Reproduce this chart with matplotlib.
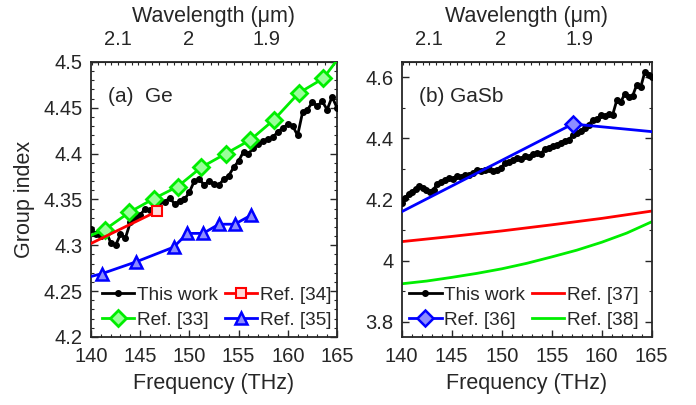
import numpy as np
import matplotlib
matplotlib.use('Agg')
from matplotlib import pyplot as plt
from matplotlib.ticker import MultipleLocator

plt.rcParams['font.family'] = ['Liberation Sans', 'DejaVu Sans']
TXT = '#262626'
plt.rcParams['text.color'] = TXT
plt.rcParams['axes.labelcolor'] = TXT
plt.rcParams['xtick.color'] = TXT
plt.rcParams['ytick.color'] = TXT
plt.rcParams['axes.edgecolor'] = TXT

# ---- (a) Ge data ----
ge_f = [140.0, 140.5, 141.0, 141.5, 142.0, 142.5, 143.0, 143.5, 144.0, 144.5,
        145.0, 145.5, 146.0, 146.5, 147.0, 147.5, 148.0, 148.5, 149.0, 149.5,
        150.0, 150.5, 151.0, 151.5, 152.0, 152.5, 153.0, 153.5, 154.0, 154.5,
        155.0, 155.5, 156.0, 156.5, 157.0, 157.5, 158.0, 158.5, 159.0, 159.5,
        160.0, 160.5, 161.0, 161.5, 162.0, 162.5, 163.0, 163.5, 164.0, 164.5, 165.0]
ge_g = [4.318, 4.312, 4.310, 4.316, 4.303, 4.300, 4.312, 4.308, 4.325, 4.330,
        4.333, 4.340, 4.338, 4.344, 4.348, 4.347, 4.352, 4.345, 4.348, 4.350,
        4.358, 4.370, 4.372, 4.366, 4.370, 4.367, 4.366, 4.372, 4.376, 4.385,
        4.392, 4.402, 4.400, 4.406, 4.410, 4.414, 4.416, 4.418, 4.424, 4.428,
        4.432, 4.430, 4.420, 4.445, 4.448, 4.456, 4.452, 4.457, 4.448, 4.462, 4.450]

ref33_f = [140.0, 141.4, 143.9, 146.4, 148.8, 151.2, 153.7, 156.2, 158.6, 161.1, 163.6, 165.0]
ref33_g = [4.311, 4.317, 4.336, 4.351, 4.364, 4.385, 4.400, 4.415, 4.437, 4.466, 4.482, 4.502]

ref34_f = [140.0, 146.7]
ref34_g = [4.302, 4.337]

ref35_f = [140.0, 141.1, 144.6, 148.4, 149.8, 151.4, 153.0, 154.6, 156.3]
ref35_g = [4.266, 4.269, 4.282, 4.298, 4.313, 4.313, 4.323, 4.323, 4.333]

# ---- (b) GaSb data ----
gasb_f = [140.0, 140.3, 140.7, 141.0, 141.4, 141.7, 142.1, 142.4, 142.8, 143.2,
          143.5, 143.9, 144.3, 144.7, 145.1, 145.5, 145.9, 146.3, 146.7, 147.1,
          147.5, 147.9, 148.3, 148.7, 149.1, 149.5, 149.9, 150.3, 150.7, 151.1,
          151.5, 151.9, 152.3, 152.7, 153.1, 153.5, 153.9, 154.3, 154.7, 155.1,
          155.5, 155.9, 156.3, 156.7, 157.1, 157.5, 157.9, 158.3, 158.7, 159.1,
          159.5, 159.9, 160.3, 160.7, 161.1, 161.5, 161.9, 162.3, 162.7, 163.1,
          163.5, 163.9, 164.3, 164.7, 165.0]
gasb_g = [4.190, 4.205, 4.218, 4.225, 4.235, 4.243, 4.236, 4.230, 4.226, 4.232,
          4.250, 4.256, 4.265, 4.270, 4.268, 4.276, 4.273, 4.281, 4.279, 4.288,
          4.297, 4.293, 4.298, 4.300, 4.292, 4.296, 4.303, 4.318, 4.322, 4.330,
          4.335, 4.332, 4.341, 4.338, 4.350, 4.352, 4.348, 4.366, 4.370, 4.375,
          4.379, 4.386, 4.392, 4.395, 4.410, 4.418, 4.425, 4.433, 4.445, 4.460,
          4.462, 4.476, 4.472, 4.481, 4.478, 4.524, 4.518, 4.546, 4.535, 4.540,
          4.575, 4.568, 4.616, 4.606, 4.600]

ref36_f = [140.0, 157.1, 165.0]
ref36_g = [4.160, 4.447, 4.422]

ref37_f = [140, 145, 150, 155, 160, 165]
ref37_g = [4.062, 4.079, 4.097, 4.117, 4.138, 4.162]

ref38_f = [140, 142.5, 145, 147.5, 150, 152.5, 155, 157.5, 160, 162.5, 165]
ref38_g = [3.924, 3.933, 3.945, 3.958, 3.973, 3.991, 4.012, 4.034, 4.060, 4.090, 4.127]

wl_ticks = [2.1, 2.0, 1.9]
wl_labels = ['2.1', '2', '1.9']

C = 299.792458  # um*THz


def f2wl(x):
    x = np.asarray(x, dtype=float)
    with np.errstate(divide='ignore', invalid='ignore'):
        return np.where(x > 0, C / np.where(x > 0, x, 1), np.inf)


fig = plt.figure(figsize=(6.96, 4.05), dpi=100)
ax1 = fig.add_axes([0.1307, 0.168, 0.3535, 0.679])
ax2 = fig.add_axes([0.5772, 0.168, 0.3592, 0.679])

BLUE = '#0000ff'
GREEN = '#00ee00'
RED = '#ff0000'
TICK_FS = 14.5
LAB_FS = 15.5
LEG_FS = 13.7

leg_kw = dict(ncol=2, loc='lower left', frameon=False, fontsize=LEG_FS, handlelength=1.7,
              handletextpad=0.15, columnspacing=0.35, labelspacing=0.4,
              borderaxespad=0, borderpad=0)

# (a)
ax1.plot(ge_f, ge_g, '-', color='k', lw=2, marker='o', ms=4, label='This work', zorder=3)
ax1.plot(ref33_f, ref33_g, '-', color=GREEN, lw=2, marker='D', ms=8, mew=2,
         mfc=(0.6, 1.0, 0.6), markevery=list(range(1, len(ref33_f) - 1)), label='Ref. [33]', zorder=4)
ax1.plot(ref34_f, ref34_g, '-', color=RED, lw=2, marker='s', ms=7, mew=1.5,
         mfc=(1.0, 0.85, 0.85), markevery=[len(ref34_f) - 1], label='Ref. [34]', zorder=4)
ax1.plot(ref35_f, ref35_g, '-', color=BLUE, lw=2, marker='^', ms=9, mew=1.8,
         mfc=(0.55, 0.55, 1.0), markevery=list(range(1, len(ref35_f))), label='Ref. [35]', zorder=4)
ax1.set_xlim(140, 165)
ax1.set_ylim(4.2, 4.5)
ax1.yaxis.set_minor_locator(MultipleLocator(0.01))
ax1.set_yticks([4.2, 4.25, 4.3, 4.35, 4.4, 4.45, 4.5])
ax1.set_yticklabels(['4.2', '4.25', '4.3', '4.35', '4.4', '4.45', '4.5'])
ax1.set_ylabel('Group index', fontsize=LAB_FS, labelpad=6)
ax1.text(0.07, 0.855, '(a)  Ge', transform=ax1.transAxes, fontsize=15)
h, l = ax1.get_legend_handles_labels()
ax1.legend(h, l, bbox_to_anchor=(0.045, 0.03), **leg_kw)

# (b)
ax2.plot(gasb_f, gasb_g, '-', color='k', lw=2, marker='o', ms=4, label='This work', zorder=3)
ax2.plot(ref36_f, ref36_g, '-', color=BLUE, lw=2, marker='D', ms=8, mew=1.8,
         mfc=(0.55, 0.55, 1.0), markevery=[1], label='Ref. [36]', zorder=4)
ax2.plot(ref37_f, ref37_g, '-', color=RED, lw=2, label='Ref. [37]')
ax2.plot(ref38_f, ref38_g, '-', color=GREEN, lw=2, label='Ref. [38]')
ax2.set_xlim(140, 165)
ax2.set_ylim(3.75, 4.65)
ax2.set_yticks([3.8, 4.0, 4.2, 4.4, 4.6])
ax2.set_yticklabels(['3.8', '4', '4.2', '4.4', '4.6'])
ax2.yaxis.set_minor_locator(MultipleLocator(0.1))
ax2.text(0.07, 0.855, '(b) GaSb', transform=ax2.transAxes, fontsize=15)
h, l = ax2.get_legend_handles_labels()
ax2.legend(h, l, bbox_to_anchor=(0.03, 0.03), **leg_kw)

for ax in (ax1, ax2):
    ax.set_xticks([140, 145, 150, 155, 160, 165])
    ax.xaxis.set_minor_locator(MultipleLocator(1))
    ax.tick_params(which='both', direction='in', top=False, right=True, labelsize=TICK_FS)
    ax.tick_params(which='major', length=5, width=1)
    ax.tick_params(which='minor', length=2.5, width=0.8)
    ax.tick_params(axis='x', which='major', pad=7)
    ax.tick_params(axis='y', which='major', pad=6)
    ax.set_xlabel('Frequency (THz)', fontsize=LAB_FS, labelpad=5)
    for s in ax.spines.values():
        s.set_linewidth(1.3)
    sec = ax.secondary_xaxis('top', functions=(f2wl, f2wl))
    sec.set_xticks(wl_ticks)
    sec.set_xticklabels(wl_labels)
    sec.xaxis.set_minor_locator(MultipleLocator(0.01))
    sec.tick_params(which='major', direction='in', length=2.5, width=0.8, labelsize=TICK_FS, pad=9)
    sec.tick_params(which='minor', direction='in', length=2.5, width=0.8)
    sec.set_xlabel('Wavelength (\u03bcm)', fontsize=LAB_FS, labelpad=6)

fig.savefig('out.png', dpi=100)
